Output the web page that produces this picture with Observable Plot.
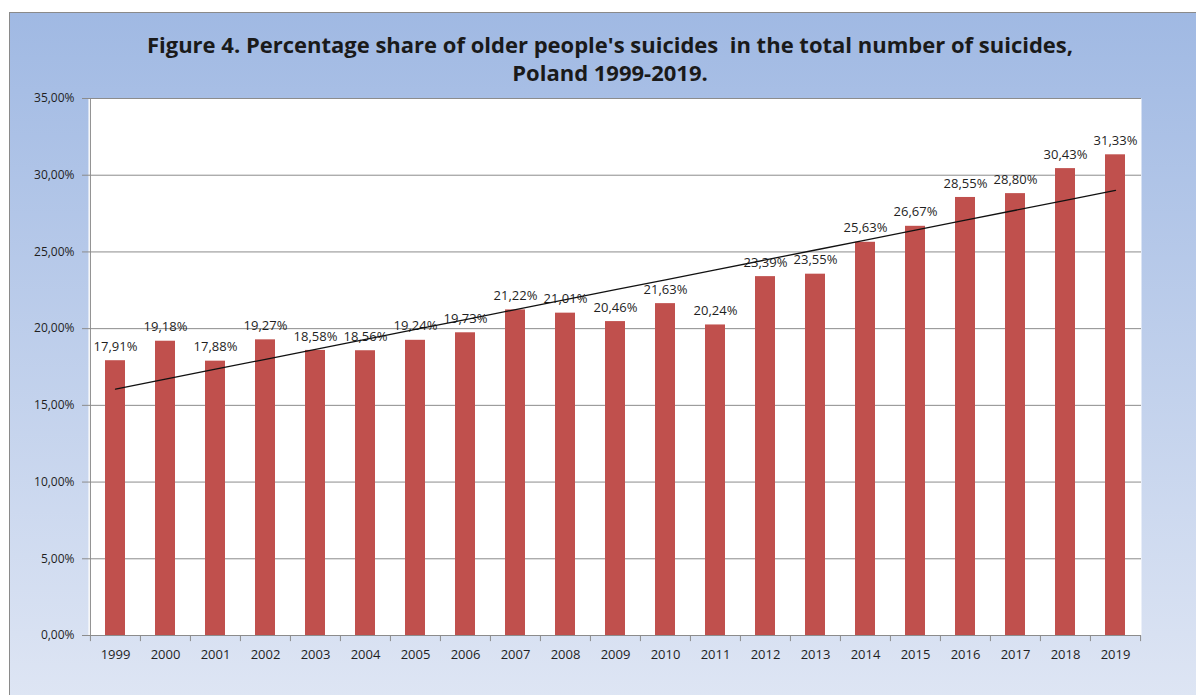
<!DOCTYPE html>
<html><head><meta charset="utf-8">
<script src="https://cdn.jsdelivr.net/npm/d3@7"></script>
<script src="https://cdn.jsdelivr.net/npm/@observablehq/plot@0.6"></script>
<style>
body{margin:0;background:#fff;width:1196px;height:695px;overflow:hidden;position:relative;font-family:"Open Sans", sans-serif;}
#frame{position:absolute;left:9px;top:12px;width:1202px;height:700px;border:1px solid #8a8a8a;background:linear-gradient(to bottom,#a0b9e3 0%,#dfe6f4 100%);box-sizing:border-box;}
#title{position:absolute;left:0;top:17px;width:1200px;text-align:center;font-weight:bold;font-size:22px;line-height:28px;color:#1a1a1a;}
#chart{position:absolute;left:0;top:67px;}
</style></head>
<body>
<div id="frame">
  <div id="title">Figure 4. Percentage share of older people's suicides&nbsp; in the total number of suicides,<br>Poland 1999-2019.</div>
  <div id="chart"></div>
</div>
<script>
const years = ["1999","2000","2001","2002","2003","2004","2005","2006","2007","2008","2009","2010","2011","2012","2013","2014","2015","2016","2017","2018","2019"];
const shares = [17.91,19.18,17.88,19.27,18.58,18.56,19.24,19.73,21.22,21.01,20.46,21.63,20.24,23.39,23.55,25.63,26.67,28.55,28.80,30.43,31.33];
const yTicks = [0,5,10,15,20,25,30,35];

const data = years.map((year, i) => ({year, share: shares[i]}));
// linear trend line (least squares), as in the original spreadsheet
const idx = d3.range(shares.length);
const mx = d3.mean(idx), my = d3.mean(shares);
const slope = d3.sum(idx, i => (i - mx) * (shares[i] - my)) / d3.sum(idx, i => (i - mx) ** 2);
const intercept = my - slope * mx;
const trend = years.map((year, i) => ({year, value: intercept + slope * i}));

const fmt = v => v.toFixed(2).replace(".", ",") + "%";
const W = 1186, H = 615, mL = 78, mR = 55, mT = 18, mB = 60;
const step = (W - mL - mR) / years.length;
const gray = "#8c8c8c", ink = "#1f1f1f";

const chart = Plot.plot({
  width: W, height: H, marginLeft: mL, marginRight: mR, marginTop: mT, marginBottom: mB,
  style: {background: "transparent", fontFamily: "'Open Sans', sans-serif", fontSize: "12px", color: ink, overflow: "visible"},
  x: {type: "band", domain: years, paddingInner: 0.6, paddingOuter: 0.3},
  y: {domain: [0, 35]},
  marks: [
    Plot.frame({fill: "white", stroke: null}),
    Plot.gridY(yTicks, {stroke: gray, strokeOpacity: 1}),
    Plot.ruleX([years[0]], {x: d => d, y1: -0.4, y2: 35, dx: -step / 2, stroke: gray}),
    Plot.ruleX(years.slice(1), {x: d => d, y1: -0.4, y2: 0, dx: -step / 2, stroke: gray}),
    Plot.ruleX([years[years.length - 1]], {x: d => d, y1: -0.4, y2: 0, dx: step / 2, stroke: gray}),
    Plot.axisY({ticks: yTicks, tickSize: 6, tickPadding: 8, tickFormat: fmt, label: null, stroke: gray, fill: ink, fontSize: 12}),
    Plot.axisX({tickSize: 0, tickPadding: 14, label: null, fill: ink, fontSize: 13}),
    Plot.barY(data, {x: "year", y: "share", fill: "#c0504d"}),
    Plot.text(data, {x: "year", y: "share", text: d => fmt(d.share), dy: -14, fill: ink, fontSize: 13}),
    Plot.line(trend, {x: "year", y: "value", stroke: "#111", strokeWidth: 1.3})
  ]
});
document.getElementById("chart").append(chart);
</script>
</body></html>
